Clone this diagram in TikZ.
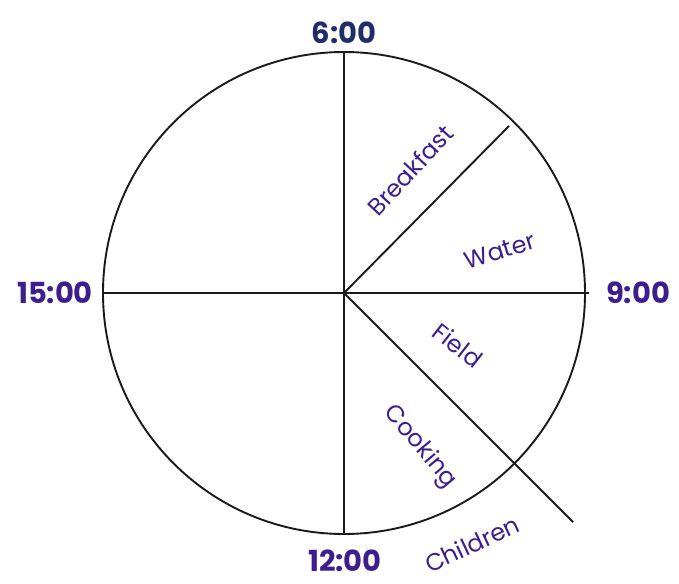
\documentclass[tikz,border=0pt]{standalone}
\usepackage{fontspec}
\setmainfont{Poppins}
\usetikzlibrary{calc,positioning}

\begin{document}
\begin{tikzpicture}[x=1pt, y=-1pt]
    % Coordinates & parameters
    \def\clockR{241}
    \def\hourSize{\fontsize{29}{29}\selectfont\bfseries}
    \def\taskSize{\fontsize{24}{24}\selectfont}

    % Colors
    \definecolor{navyCol}{HTML}{1F2D6B}
    \definecolor{taskCol}{HTML}{3E1E8C}
    \definecolor{lineCol}{HTML}{1A1A1A}

    \tikzset{
        clockline/.style={line width=1.9pt, lineCol},
        hourlabel/.style={font=\hourSize, taskCol, inner sep=0pt},
        tasklabel/.style={font=\taskSize, taskCol, inner sep=0pt},
    }

    \useasboundingbox (0,0) rectangle (679,583);

    % 1. Clock face
    \coordinate (O) at (344,293);
    \draw[clockline] (O) circle (\clockR);

    % 2. Dividing lines
    \coordinate (top) at ($(O)+(0,-\clockR)$);
    \coordinate (bot) at ($(O)+(0,\clockR)$);
    \coordinate (lft) at ($(O)+(-\clockR,0)$);
    \coordinate (rgt) at ($(O)+(\clockR+4,0)$);
    \coordinate (ne) at ($(O)+(165,-167)$);
    \coordinate (se) at ($(O)+(229,229)$);
    \draw[clockline] (top) -- (bot);
    \draw[clockline] (lft) -- (rgt);
    \draw[clockline] (O) -- (ne);
    \draw[clockline] (O) -- (se);

    % 3. Hours
    \node[hourlabel, navyCol] (h6) at (344,33) {6:00};
    \node[hourlabel] (h9) at (638,293) {9:00};
    \node[hourlabel] (h12) at (345,561) {12:00};
    \node[hourlabel] (h15) at (55,293) {15:00};

    % 4. Tasks
    \node[tasklabel, rotate=47] (breakfast) at (410,170) {Breakfast};
    \node[tasklabel, rotate=17] (water) at (500,251) {Water};
    \node[tasklabel, rotate=-38] (field) at (458,345) {Field};
    \node[tasklabel, rotate=-50] (cooking) at (420,447) {Cooking};
    \node[tasklabel, rotate=25] (children) at (472,544) {Children};
\end{tikzpicture}
\end{document}
